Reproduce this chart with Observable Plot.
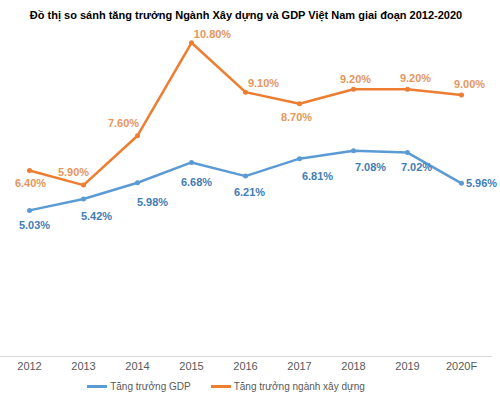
<!DOCTYPE html>
<html><head><meta charset="utf-8">
<script src="https://cdn.jsdelivr.net/npm/d3@7"></script>
<script src="https://cdn.jsdelivr.net/npm/@observablehq/plot@0.6"></script>
<style>
body{margin:0;background:#fff;font-family:"Liberation Sans",Arial,sans-serif;}
#wrap{position:relative;width:500px;height:398px;overflow:hidden;}
#title{position:absolute;top:9px;left:0;width:492px;text-align:center;font-weight:bold;font-size:11px;color:#000;}
#chart{position:absolute;top:28px;left:0;}
#legend{position:absolute;top:381px;left:0;width:452px;display:flex;justify-content:center;gap:20px;font-size:10px;color:#595959;}
#legend span{display:flex;align-items:center;}
#legend i{display:inline-block;width:20px;height:2.5px;margin-right:3px;}
</style></head>
<body>
<div id="wrap">
<div id="title">Đồ thị so sánh tăng trưởng Ngành Xây dựng và GDP Việt Nam giai đoạn 2012-2020</div>
<div id="chart"></div>
<div id="legend"></div>
</div>
<script>
const years = ["2012","2013","2014","2015","2016","2017","2018","2019","2020F"];
const gdp = [5.03, 5.42, 5.98, 6.68, 6.21, 6.81, 7.08, 7.02, 5.96];
const construction = [6.40, 5.90, 7.60, 10.80, 9.10, 8.70, 9.20, 9.20, 9.00];
const seriesNames = ["Tăng trưởng GDP", "Tăng trưởng ngành xây dựng"];
const colors = ["#5B9BD5", "#ED7D31"];
const labelColors = ["#3F7DB8", "#E5965C"];
// label offsets (dx, dy) in px relative to each point
const gdpLabelOffsets = [[5,15],[13,17],[15,20],[5,20],[4,16],[18,18],[17,17],[9,15],[20,0]];
const conLabelOffsets = [[1,13],[-10,-13],[-14,-12],[21,-8],[18,-9],[-3,14],[2,-10],[8,-11],[8,-11]];

const gdpData = years.map((y,i)=>({year:y, value:gdp[i]}));
const conData = years.map((y,i)=>({year:y, value:construction[i]}));

function labels(data, offs, color){
  return data.map((d,i)=>Plot.text([d], {x:"year", y:"value", text:d=>d.value.toFixed(2)+"%",
    dx:offs[i][0], dy:offs[i][1], fill:color, fontSize:11, fontWeight:"bold"}));
}

const plot = Plot.plot({
  width:500, height:350,
  marginLeft:0, marginRight:8, marginTop:0, marginBottom:22,
  style:{fontFamily:"Liberation Sans, Arial, sans-serif", fontSize:"11px", background:"#fff"},
  x:{type:"point", domain:years, range:[25.5,463.5], padding:0, label:null},
  y:{domain:[0,12], range:[328, 328-12*29.05], axis:null},
  marks:[
    Plot.ruleY([0], {stroke:"#d9d9d9", strokeWidth:1}),
    Plot.axisX({tickSize:0, tickPadding:6, fill:"#595959", label:null, fontSize:11}),
    Plot.line(conData, {x:"year", y:"value", stroke:colors[1], strokeWidth:2.5}),
    Plot.dot(conData, {x:"year", y:"value", fill:colors[1], r:2.5}),
    Plot.line(gdpData, {x:"year", y:"value", stroke:colors[0], strokeWidth:2.5}),
    Plot.dot(gdpData, {x:"year", y:"value", fill:colors[0], r:2.5}),
    ...labels(conData, conLabelOffsets, labelColors[1]),
    ...labels(gdpData, gdpLabelOffsets, labelColors[0])
  ]
});
document.getElementById("chart").appendChild(plot);
const lg = document.getElementById("legend");
seriesNames.forEach((n,i)=>{
  const s=document.createElement("span");
  s.innerHTML=`<i style="background:${colors[i]}"></i>${n}`;
  lg.appendChild(s);
});
</script>
</body></html>
